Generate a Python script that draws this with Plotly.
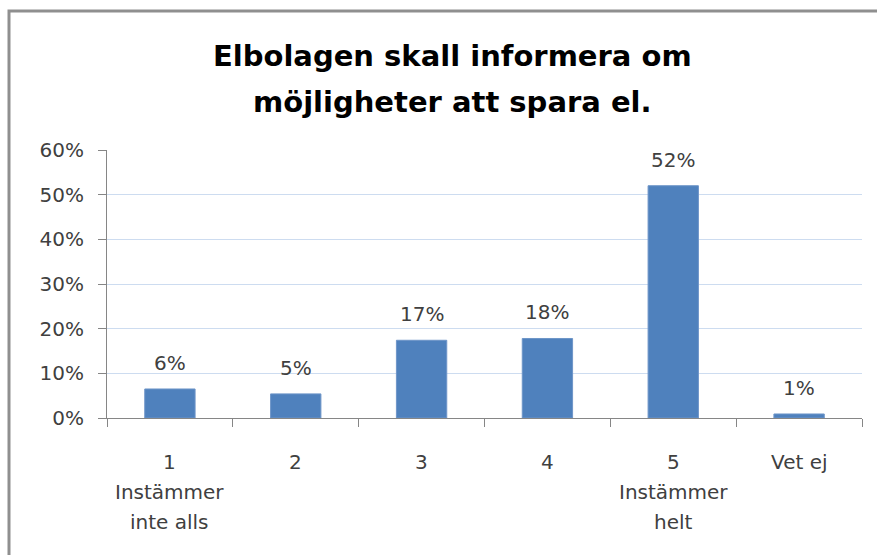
import plotly.graph_objects as go

categories = ["1", "2", "3", "4", "5", "Vet ej"]
category_lines = [
    ["1", "Instämmer", "inte alls"],
    ["2"],
    ["3"],
    ["4"],
    ["5", "Instämmer", "helt"],
    ["Vet ej"],
]
values = [0.065, 0.054, 0.174, 0.178, 0.52, 0.009]
value_labels = ["6%", "5%", "17%", "18%", "52%", "1%"]
y_ticks = [0, 0.1, 0.2, 0.3, 0.4, 0.5, 0.6]
y_tick_labels = ["0%", "10%", "20%", "30%", "40%", "50%", "60%"]
title_lines = ["Elbolagen skall informera om", "möjligheter att spara el."]

W, H = 877, 555
ML, MR, MT, MB = 107, 15, 150, 137
PW, PH = W - ML - MR, H - MT - MB

TXT = "#404040"
FONT = "DejaVu Sans"
FS = 20

fig = go.Figure()
fig.add_trace(go.Bar(
    x=categories, y=values,
    marker=dict(color="#4f81bd", line=dict(color="#6e95c8", width=1)),
    hoverinfo="skip",
))

annotations = []
for i, (v, lab) in enumerate(zip(values, value_labels)):
    annotations.append(dict(
        x=i, y=v, xref="x", yref="y", text=lab, showarrow=False,
        yanchor="bottom", yshift=12, font=dict(family=FONT, size=FS, color=TXT),
    ))
for i, lines in enumerate(category_lines):
    for j, ln in enumerate(lines):
        annotations.append(dict(
            x=i, y=0, xref="x", yref="paper", text=ln, showarrow=False,
            yanchor="middle", yshift=-(44 + 30 * j),
            font=dict(family=FONT, size=FS, color=TXT),
        ))
for j, ln in enumerate(title_lines):
    px, py = 452, 56 + 46 * j
    annotations.append(dict(
        x=(px - ML) / PW, y=(H - MB - py) / PH, xref="paper", yref="paper",
        text="<b>" + ln + "</b>", showarrow=False, xanchor="center", yanchor="middle",
        font=dict(family="DejaVu Sans", size=29, color="#000000"),
    ))

fig.update_layout(
    width=W, height=H,
    margin=dict(l=ML, r=MR, t=MT, b=MB),
    paper_bgcolor="white", plot_bgcolor="white",
    showlegend=False,
    bargap=0.6,
    annotations=annotations,
    xaxis=dict(
        type="category", showticklabels=False, tickson="boundaries",
        ticks="outside", ticklen=8, tickcolor="#868686", tickwidth=1,
        showline=True, linecolor="#868686", linewidth=1, showgrid=False,
        range=[-0.5, 5.5], fixedrange=True,
    ),
    yaxis=dict(
        range=[0, 0.6], tickvals=y_ticks, ticktext=y_tick_labels,
        ticks="outside", ticklen=8, tickcolor="#868686", tickwidth=1,
        showline=True, linecolor="#868686", linewidth=1,
        showgrid=True, gridcolor="#cddcf0", gridwidth=1, zeroline=False,
        tickfont=dict(family=FONT, size=FS, color=TXT),
        ticklabelstandoff=10, fixedrange=True,
    ),
    shapes=[dict(
        type="rect", xref="paper", yref="paper",
        x0=(9 - ML) / PW, x1=(W + 20 - ML) / PW,
        y0=-(MB + 20) / PH, y1=(H - MB - 11) / PH,
        line=dict(color="#8f8f8f", width=3), fillcolor="rgba(0,0,0,0)",
    )],
)

fig.write_html(
    "out.html",
    config={"displayModeBar": False},
    post_script="document.body.style.margin='0';",
)
